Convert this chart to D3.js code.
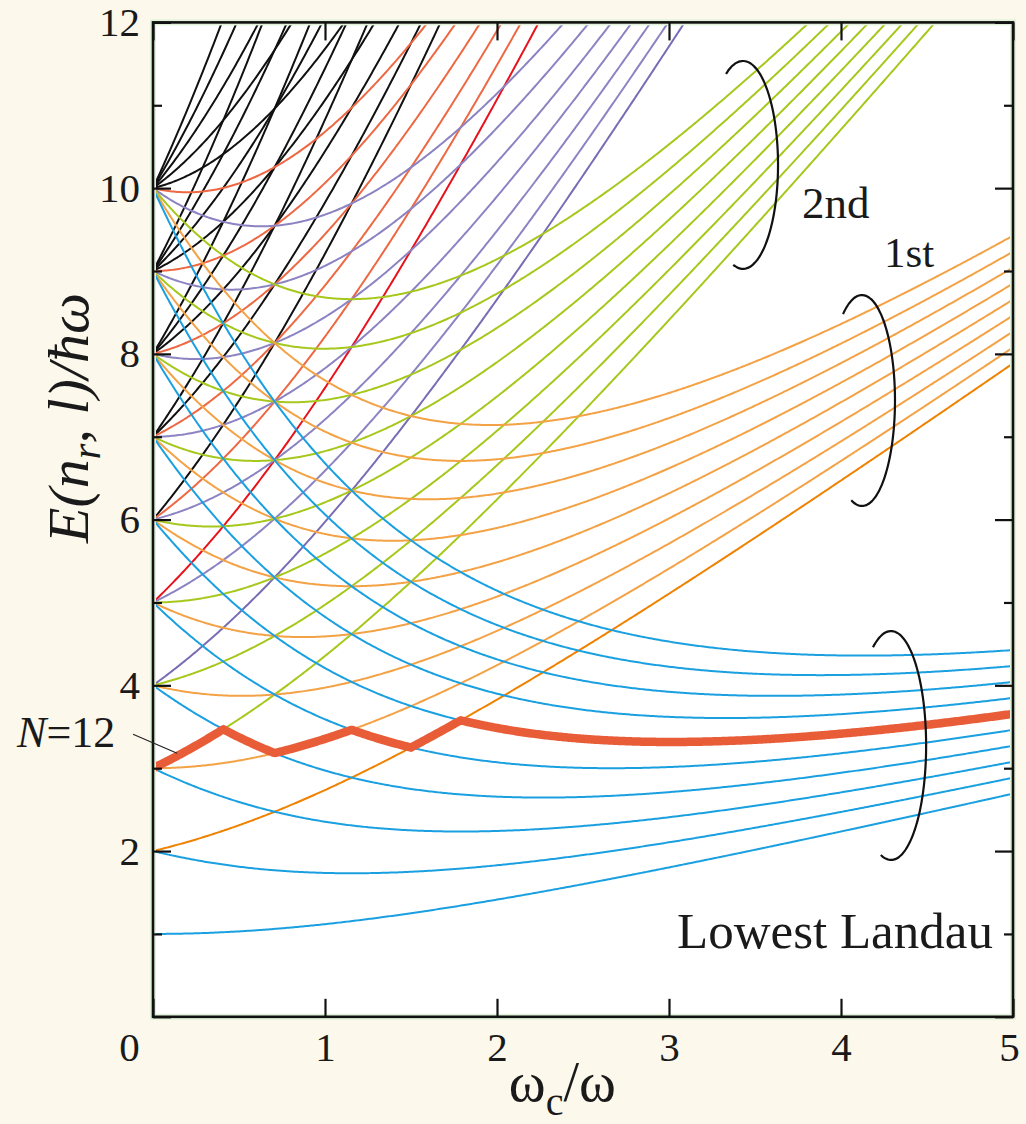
<!DOCTYPE html>
<html>
<head>
<meta charset="utf-8">
<script src="https://cdn.jsdelivr.net/npm/d3@7"></script>
<style>
    body { margin: 0; background: #fcf8ec; }
    svg { display: block; }
    .axis text { font-family: "Liberation Serif", "Times New Roman", serif; font-size: 41px; fill: #1a1a1a; }
    .axis line { stroke: #111; stroke-width: 2.2px; }
    .label { font-family: "Liberation Serif", "Times New Roman", serif; fill: #1a1a1a; }
</style>
</head>
<body>
<div id="chart-container"></div>
<script>
/*
    Fock-Darwin spectrum E(n_r,l)/hw vs wc/w, N=12 highest occupied level
 */

var x_ticks = [0, 1, 2, 3, 4, 5];
var y_major_ticks = [0, 2, 4, 6, 8, 10, 12];
var y_minor_ticks = [1, 3, 5, 7, 9, 11];

// energies at wc=0 where the curves start (one shell per value)
var shell_energies = [1, 2, 3, 4, 5, 6, 7, 8, 9, 10];

// colour per Landau level index (0 = lowest), last one for all higher levels
var landau_colors = ['#1aa0e0', '#f4a246', '#a6c81c', '#8c84c2', '#ee6843', '#111111'];
// edge state n_r = 0, l = -N of each Landau level
var edge_colors = ['#1aa0e0', '#ef8200', '#a6c81c', '#7a6cb4', '#e8121c', '#111111'];

var electron_number = 12;

// bracket annotations (centre, radii in data units)
var brackets = [
    {name: '2nd', cx: 3.43, cy: 10.28, rx: 0.204, ry: 1.255, a0: 119, a1: -107},
    {name: '1st', cx: 4.122, cy: 7.437, rx: 0.192, ry: 1.273, a0: 125, a1: -110},
    {name: 'lowest', cx: 4.291, cy: 3.274, rx: 0.204, ry: 1.382, a0: 121, a1: -108}
];

var labels = [
    {text: '2nd', x: 3.773, y: 9.64, size: 45},
    {text: '1st', x: 4.25, y: 9.05, size: 43},
    {text: 'Lowest Landau', x: 3.047, y: 0.83, size: 51}
];

var svg_size = {
    'width': 1026,
    'height': 1124
};

var chart_option = {
    'left': 153,
    'top': 22.4,
    'right': 1013,
    'bottom': 1016.8
};

var svg = d3.select("#chart-container")
    .append("svg")
    .attr('width', svg_size.width)
    .attr('height', svg_size.height);

var x_scale = d3.scaleLinear()
    .domain([0, 5])
    .range([chart_option.left, chart_option.right]);

var y_scale = d3.scaleLinear()
    .domain([0, 12])
    .range([chart_option.bottom, chart_option.top]);

function fock_darwin(nr, l, x){
    return (2*nr + Math.abs(l) + 1) * Math.sqrt(1 + x*x/4) - l*x/2;
}

// states of every shell
var states = [];
shell_energies.forEach(function(e0){
    var k = e0 - 1;
    for (var l = -k; l <= k; l += 2) {
        var nr = (k - Math.abs(l)) / 2;
        var landau = nr + (Math.abs(l) - l) / 2;
        states.push({nr: nr, l: l, landau: landau});
    }
});

var x_grid = d3.range(0, 5.0001, 0.01);

states.forEach(function(s){
    s.points = x_grid.map(function(x){ return [x, fock_darwin(s.nr, s.l, x)]; });
    var idx = Math.min(s.landau, landau_colors.length - 1);
    s.color = (s.nr === 0 && s.l < 0) ? edge_colors[idx] : landau_colors[idx];
});

// draw higher levels first
states.sort(function(a, b){ return b.landau - a.landau || (a.nr === 0 ? 1 : 0) - (b.nr === 0 ? 1 : 0); });

// highest occupied orbital for N electrons (spin degenerate)
var fermi_points = x_grid.map(function(x){
    var e = states.map(function(s){ return fock_darwin(s.nr, s.l, x); }).sort(d3.ascending);
    return [x, e[electron_number/2 - 1]];
});

svg.append('rect')
    .attr('x', chart_option.left)
    .attr('y', chart_option.top)
    .attr('width', chart_option.right - chart_option.left)
    .attr('height', chart_option.bottom - chart_option.top)
    .style('fill', '#ffffff');

svg.append('clipPath')
    .attr('id', 'plot-clip')
    .append('rect')
    .attr('x', chart_option.left)
    .attr('y', chart_option.top)
    .attr('width', chart_option.right - chart_option.left)
    .attr('height', chart_option.bottom - chart_option.top);

var line = d3.line()
    .x(function(d){ return x_scale(d[0]); })
    .y(function(d){ return y_scale(d[1]); });

var curve_group = svg.append('g')
    .attr('clip-path', 'url(#plot-clip)');

curve_group.selectAll('.level')
    .data(states)
    .enter()
    .append('path')
    .classed('level', true)
    .attr('d', function(d){ return line(d.points); })
    .style('fill', 'none')
    .style('stroke', function(d){ return d.color; })
    .style('stroke-width', 2);

curve_group.append('path')
    .attr('d', line(fermi_points))
    .style('fill', 'none')
    .style('stroke', '#e85c38')
    .style('stroke-width', 8.5)
    .style('stroke-linejoin', 'miter');

// frame
svg.append('rect')
    .attr('x', chart_option.left)
    .attr('y', chart_option.top)
    .attr('width', chart_option.right - chart_option.left)
    .attr('height', chart_option.bottom - chart_option.top)
    .style('fill', 'none')
    .style('stroke', '#e2f2da')
    .style('stroke-width', 6);

svg.append('rect')
    .attr('x', chart_option.left)
    .attr('y', chart_option.top)
    .attr('width', chart_option.right - chart_option.left)
    .attr('height', chart_option.bottom - chart_option.top)
    .style('fill', 'none')
    .style('stroke', '#111')
    .style('stroke-width', 2.6);

// axes
svg.append('g')
    .classed('axis', true)
    .attr('transform', 'translate(' + chart_option.left + ',0)')
    .call(d3.axisLeft(y_scale)
        .tickValues(y_major_ticks)
        .tickSizeInner(-18)
        .tickSizeOuter(0)
        .tickPadding(13)
        .tickFormat(function(d){ return d === 0 ? '' : d; }));

svg.append('g')
    .classed('axis', true)
    .attr('transform', 'translate(' + chart_option.left + ',0)')
    .call(d3.axisLeft(y_scale).tickValues(y_minor_ticks).tickSizeInner(-9).tickSizeOuter(0).tickFormat(''));

svg.append('g')
    .classed('axis', true)
    .attr('transform', 'translate(' + chart_option.right + ',0)')
    .call(d3.axisRight(y_scale).tickValues(y_major_ticks).tickSizeInner(-18).tickSizeOuter(0).tickFormat(''));

svg.append('g')
    .classed('axis', true)
    .attr('transform', 'translate(' + chart_option.right + ',0)')
    .call(d3.axisRight(y_scale).tickValues(y_minor_ticks).tickSizeInner(-9).tickSizeOuter(0).tickFormat(''));

var bottom_axis = svg.append('g')
    .classed('axis', true)
    .attr('transform', 'translate(0,' + chart_option.bottom + ')')
    .call(d3.axisBottom(x_scale)
        .tickValues(x_ticks)
        .tickSizeInner(-18)
        .tickSizeOuter(0)
        .tickPadding(15)
        .tickFormat(d3.format('d')));

bottom_axis.selectAll('.tick text')
    .attr('dx', function(d){ return d === 0 ? -24 : (d === 5 ? -4 : 0); });

svg.append('g')
    .classed('axis', true)
    .attr('transform', 'translate(0,' + chart_option.top + ')')
    .call(d3.axisTop(x_scale).tickValues(x_ticks).tickSizeInner(-18).tickSizeOuter(0).tickFormat(''));

svg.selectAll('.axis .domain').remove();

// axis titles
var y_title = svg.append('text')
    .classed('label', true)
    .attr('transform', 'translate(88,418) rotate(-90)')
    .attr('text-anchor', 'middle')
    .style('font-size', '58px')
    .style('font-style', 'italic');
y_title.append('tspan').text('E(n');
y_title.append('tspan').attr('dy', 12).style('font-size', '40px').text('r');
y_title.append('tspan').attr('dy', -12).text(', l)/ħω');

var x_title = svg.append('text')
    .classed('label', true)
    .attr('x', x_scale(2.38))
    .attr('y', 1101)
    .attr('text-anchor', 'middle')
    .style('font-size', '56px');
x_title.append('tspan').text('ω');
x_title.append('tspan').attr('dy', 14).style('font-size', '40px').text('c');
x_title.append('tspan').attr('dy', -14).text('/ω');

// brackets
var bracket_line = d3.line()
    .x(function(d){ return x_scale(d[0]); })
    .y(function(d){ return y_scale(d[1]); })
    .curve(d3.curveBasis);

svg.selectAll('.bracket')
    .data(brackets)
    .enter()
    .append('path')
    .classed('bracket', true)
    .attr('d', function(b){
        var pts = d3.range(b.a0, b.a1 - 0.1, -3).map(function(a){
            var t = a * Math.PI / 180;
            return [b.cx + b.rx*Math.cos(t), b.cy + b.ry*Math.sin(t)];
        });
        return bracket_line(pts);
    })
    .style('fill', 'none')
    .style('stroke', '#111')
    .style('stroke-width', 2.2);

svg.selectAll('.note')
    .data(labels)
    .enter()
    .append('text')
    .classed('label', true)
    .attr('x', function(d){ return x_scale(d.x); })
    .attr('y', function(d){ return y_scale(d.y); })
    .style('font-size', function(d){ return d.size + 'px'; })
    .text(function(d){ return d.text; });

// N=12 label with leader
var n_label = svg.append('text')
    .classed('label', true)
    .attr('x', x_scale(-0.79))
    .attr('y', y_scale(3.256))
    .style('font-size', '44px');
n_label.append('tspan').style('font-style', 'italic').text('N');
n_label.append('tspan').text('=12');

svg.append('line')
    .attr('x1', x_scale(-0.116))
    .attr('y1', y_scale(3.41))
    .attr('x2', x_scale(0.14))
    .attr('y2', y_scale(3.18))
    .style('stroke', '#222')
    .style('stroke-width', 1.2);
</script>
</body>
</html>
